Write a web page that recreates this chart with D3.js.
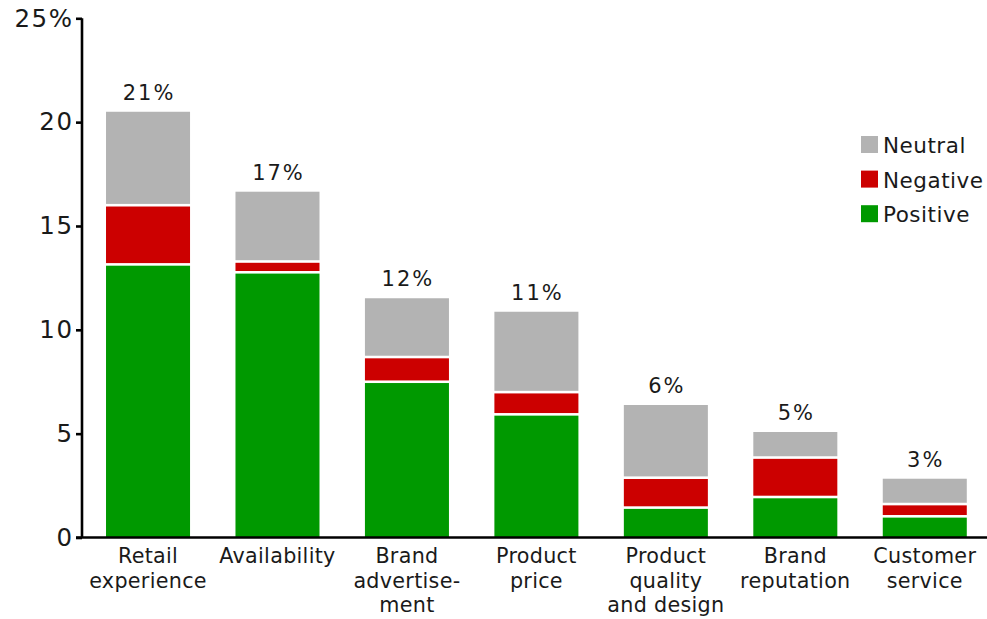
<!DOCTYPE html>
<html>
<head>
<meta charset="utf-8">
<script src="https://cdn.jsdelivr.net/npm/d3@7"></script>
<style>
  html, body { margin: 0; padding: 0; background: #fff; }
  svg { display: block; font-family: "DejaVu Sans", Verdana, sans-serif; }
</style>
</head>
<body>
<svg id="chart" width="987" height="619"></svg>
<script>
// Share of mentions by topic, split by sentiment (percent)
const categories = [
  ["Retail", "experience"],
  ["Availability"],
  ["Brand", "advertise-", "ment"],
  ["Product", "price"],
  ["Product", "quality", "and design"],
  ["Brand", "reputation"],
  ["Customer", "service"]
];
const positive = [13.15, 12.77, 7.50, 5.93, 1.44, 1.95, 1.02];
const negative = [2.85, 0.52, 1.19, 1.07, 1.44, 1.90, 0.59];
const neutral  = [4.50, 3.36, 2.83, 3.87, 3.50, 1.23, 1.22];
const totalLabels = ["21%", "17%", "12%", "11%", "6%", "5%", "3%"];
const yTicks = [0, 5, 10, 15, 20, 25];

const seriesNames = ["Positive", "Negative", "Neutral"];
const seriesColors = { Positive: "#009900", Negative: "#cc0000", Neutral: "#b3b3b3" };

const svg = d3.select("#chart");
const W = 987, H = 619;
const axisX = 82, baseY = 537.5, topY = 18.3;

const x = d3.scaleBand()
  .domain(d3.range(categories.length))
  .range([83.3, 989.5])
  .paddingInner(0.351)
  .paddingOuter(0.1755);

const y = d3.scaleLinear().domain([0, 25]).range([baseY, topY]);

// stacked rows
const rows = categories.map((c, i) => ({
  i, Positive: positive[i], Negative: negative[i], Neutral: neutral[i]
}));
const stack = d3.stack().keys(seriesNames)(rows);

const gap = 2.6;
const g = svg.append("g");
stack.forEach((layer, li) => {
  g.selectAll(null)
    .data(layer)
    .join("rect")
    .attr("x", d => x(d.data.i))
    .attr("width", x.bandwidth())
    .attr("y", d => y(d[1]) + (li === stack.length - 1 ? 0 : gap / 2))
    .attr("height", d => {
      const top = y(d[1]) + (li === stack.length - 1 ? 0 : gap / 2);
      const bot = y(d[0]) - (li === 0 ? 0 : gap / 2);
      return Math.max(0, bot - top);
    })
    .attr("fill", seriesColors[layer.key]);
});

// total labels above bars
g.selectAll(null)
  .data(rows)
  .join("text")
  .attr("x", d => x(d.i) + x.bandwidth() / 2 + 1)
  .attr("y", d => y(d.Positive + d.Negative + d.Neutral) - 12)
  .attr("text-anchor", "middle")
  .attr("font-size", 21)
  .attr("letter-spacing", 2)
  .attr("fill", "#1a1a1a")
  .text(d => totalLabels[d.i]);

// y axis
const yAxis = d3.axisLeft(y)
  .tickValues(yTicks)
  .tickSize(6)
  .tickPadding(2.5)
  .tickFormat(d => d === 25 ? d + "%" : d);
const ya = svg.append("g").attr("transform", `translate(${axisX},0)`).call(yAxis);
ya.select(".domain").attr("stroke", "#000").attr("stroke-width", 2.6).attr("d", `M0,${topY}V${baseY}`);
ya.selectAll(".tick line").attr("stroke", "#000").attr("stroke-width", 2.6);
ya.selectAll(".tick text")
  .attr("font-size", 24.5)
  .attr("letter-spacing", 1.5)
  .attr("fill", "#1a1a1a")
  .attr("font-family", "DejaVu Sans, sans-serif");

// x axis baseline
svg.append("line")
  .attr("x1", axisX - 6).attr("x2", W)
  .attr("y1", baseY).attr("y2", baseY)
  .attr("stroke", "#000").attr("stroke-width", 2.6);

// category labels
const cat = svg.append("g");
categories.forEach((lines, i) => {
  const t = cat.append("text")
    .attr("x", x(i) + x.bandwidth() / 2)
    .attr("y", 563)
    .attr("text-anchor", "middle")
    .attr("font-size", 20.7)
    .attr("letter-spacing", 0.3)
    .attr("fill", "#1a1a1a");
  lines.forEach((ln, k) => {
    t.append("tspan")
      .attr("x", x(i) + x.bandwidth() / 2)
      .attr("dy", k === 0 ? 0 : 24.5)
      .text(ln);
  });
});

// legend
const legendItems = ["Neutral", "Negative", "Positive"];
const lg = svg.append("g");
legendItems.forEach((name, k) => {
  const yy = 136 + k * 34.6;
  lg.append("rect")
    .attr("x", 861).attr("y", yy)
    .attr("width", 17).attr("height", 17)
    .attr("fill", seriesColors[name]);
  lg.append("text")
    .attr("x", 883).attr("y", yy + 17)
    .attr("font-size", 21.5)
    .attr("letter-spacing", 0.5)
    .attr("fill", "#1a1a1a")
    .text(name);
});
</script>
</body>
</html>
